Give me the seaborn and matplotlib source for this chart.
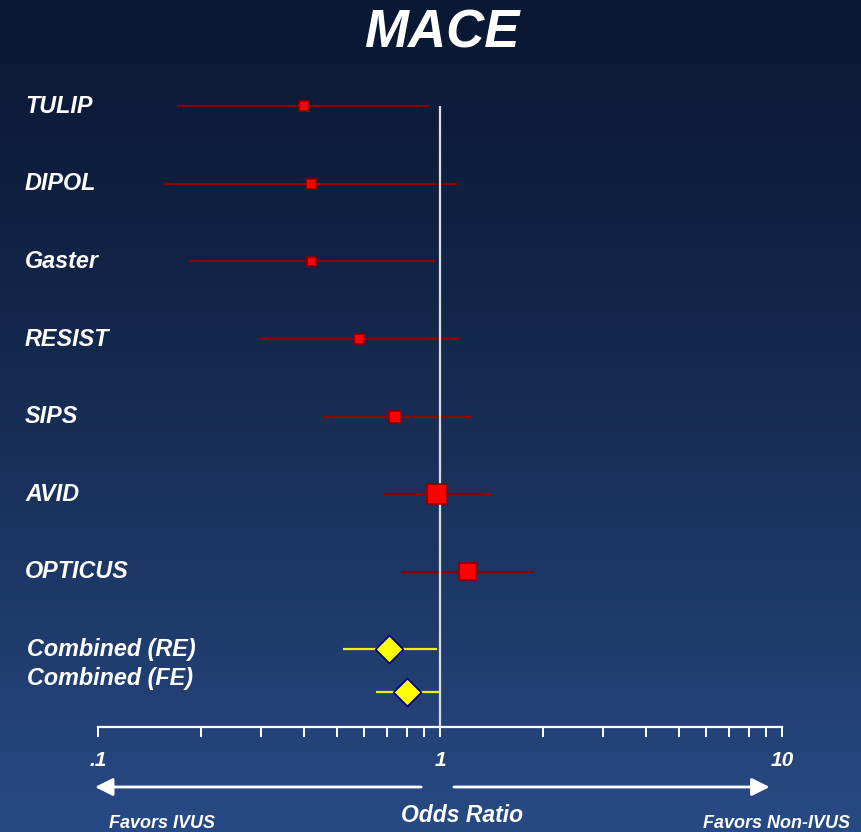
import numpy as np
import pandas as pd
import matplotlib
matplotlib.use("Agg")
import matplotlib.pyplot as plt
import matplotlib.transforms as mtransforms
from matplotlib.ticker import FixedLocator, NullFormatter
import seaborn as sns

# ---------------- data ----------------
studies = ["TULIP", "DIPOL", "Gaster", "RESIST", "SIPS", "AVID", "OPTICUS"]
study_or = [0.40, 0.42, 0.42, 0.58, 0.74, 0.98, 1.20]
study_low = [0.17, 0.156, 0.185, 0.295, 0.45, 0.68, 0.77]
study_high = [0.93, 1.12, 0.97, 1.14, 1.23, 1.42, 1.88]
study_weight = [8.2, 8.2, 6.7, 8.2, 11.9, 32.9, 23.8]

pooled = ["Combined (RE)", "Combined (FE)"]
pooled_or = [0.71, 0.80]
pooled_low = [0.52, 0.65]
pooled_high = [0.98, 0.99]

tick_values = [0.1, 1, 10]
tick_labels = [".1", "1", "10"]

title = "MACE"
xlabel = "Odds Ratio"
left_note = "Favors IVUS"
right_note = "Favors Non-IVUS"

# ---------------- style ----------------
sns.set_style("white")
plt.rcParams["font.family"] = ["Liberation Sans", "DejaVu Sans"]
FONT = dict(fontweight="bold", fontstyle="italic", color="white")

W, H = 862, 832
fig = plt.figure(figsize=(W / 100, H / 100), dpi=100)

# background gradient
bg = fig.add_axes([0, 0, 1, 1], zorder=0)
t = np.linspace(0, 1, 400) ** 1.25
top = np.array([10, 24, 51]) / 255
bot = np.array([40, 74, 132]) / 255
grad = top[None, :] * (1 - t[:, None]) + bot[None, :] * t[:, None]
bg.imshow(grad[:, None, :], aspect="auto", extent=[0, 1, 0, 1], origin="upper")
bg.axis("off")

# main axes: x from .1 (px 98) to 10 (px 782), bottom at px 727
ax = fig.add_axes([98 / W, 1 - 727 / H, 684 / W, (727 - 90) / H], zorder=1)
ax.patch.set_alpha(0)

study_rows = list(range(len(studies)))
pooled_rows = [7.0, 7.55]
pooled_label_rows = [7.0, 7.37]

df = pd.DataFrame({"name": studies, "or": study_or, "low": study_low,
                   "high": study_high, "weight": study_weight, "row": study_rows})
dfp = pd.DataFrame({"name": pooled, "or": pooled_or, "low": pooled_low,
                    "high": pooled_high, "row": pooled_rows})

# confidence intervals
ax.hlines(df["row"], df["low"], df["high"], color="#900000", lw=1.6, zorder=2)
ax.hlines(dfp["row"], dfp["low"], dfp["high"], color="#f2f200", lw=1.6, zorder=2)

# reference line
ax.vlines(1, 0, 8.0, color="#dcdcdc", lw=1.6, zorder=2.5)

# study markers
sns.scatterplot(data=df, x="or", y="row", size="weight", sizes=(42, 207),
                size_norm=(6.7, 32.9), marker="s", color="#ff0000",
                edgecolor="#8b0000", linewidth=1.2, legend=False, ax=ax, zorder=3)
# pooled diamonds
sns.scatterplot(data=dfp, x="or", y="row", marker="D", s=200, color="#ffff00",
                edgecolor="#000080", linewidth=1.2, legend=False, ax=ax, zorder=3)

ax.set_xscale("log")
ax.set_xlim(0.1, 10)
ax.set_ylim(8.0, -0.21)
ax.set_xlabel("")
ax.set_ylabel("")
for s in ["top", "left", "right"]:
    ax.spines[s].set_visible(False)
ax.spines["bottom"].set_color("white")
ax.spines["bottom"].set_linewidth(1.6)
ax.set_yticks([])
ax.xaxis.set_major_locator(FixedLocator(tick_values))
ax.set_xticklabels(tick_labels)
minor = [m * 10.0 ** e for e in (-1, 0) for m in range(2, 10)]
ax.xaxis.set_minor_locator(FixedLocator(minor))
ax.xaxis.set_minor_formatter(NullFormatter())
ax.tick_params(axis="x", which="both", direction="out", length=7.5, width=1.4,
               color="white", bottom=True)
ax.tick_params(axis="x", which="major", pad=10, labelsize=15, labelcolor="white")
for lab in ax.get_xticklabels():
    lab.set_fontweight("bold")
    lab.set_fontstyle("italic")

# row labels
trans = mtransforms.blended_transform_factory(ax.transAxes, ax.transData)
lx = (25 - 98) / 684
for name, r in zip(studies, study_rows):
    ax.text(lx, r, name, transform=trans, ha="left", va="center", fontsize=16.8, **FONT)
for name, r in zip(pooled, pooled_label_rows):
    ax.text(lx + 0.003, r, name, transform=trans, ha="left", va="center", fontsize=16.8, **FONT)

# arrows below axis
xt = ax.get_xaxis_transform()
ay = -(787 - 727) / (727 - 90)
arrow = dict(arrowstyle="-|>,head_length=0.9,head_width=0.45", color="white",
             lw=2.0, shrinkA=0, shrinkB=0, mutation_scale=12)
ax.annotate("", xy=(0.098, ay), xytext=(0.881, ay), xycoords=xt, textcoords=xt,
            arrowprops=arrow, annotation_clip=False)
ax.annotate("", xy=(9.2, ay), xytext=(1.098, ay), xycoords=xt, textcoords=xt,
            arrowprops=arrow, annotation_clip=False)

# texts
fig.text(442 / W, 1 - 34 / H, title, ha="center", va="center", fontsize=38, **FONT)
fig.text(462 / W, 1 - 816 / H, xlabel, ha="center", va="center", fontsize=16.5, **FONT)
fig.text(162 / W, 1 - 823 / H, left_note, ha="center", va="center", fontsize=13, **FONT)
fig.text(777 / W, 1 - 823 / H, right_note, ha="center", va="center", fontsize=13, **FONT)

fig.savefig("out.png", dpi=100)
